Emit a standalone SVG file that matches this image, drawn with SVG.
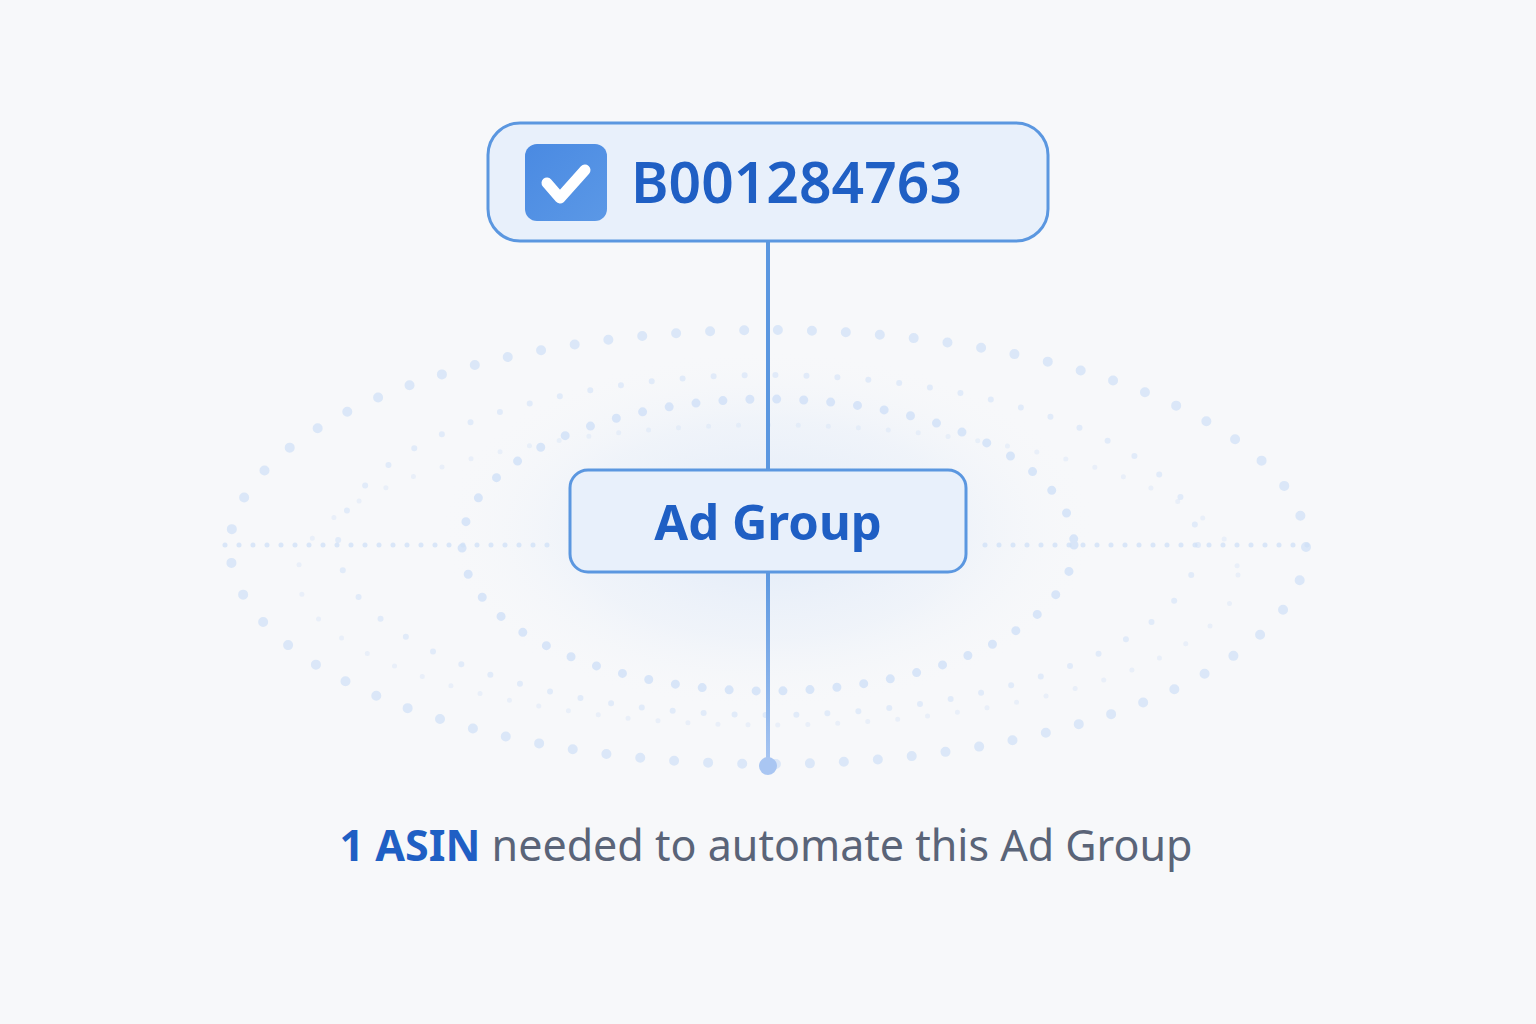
<svg xmlns="http://www.w3.org/2000/svg" width="1536" height="1024" viewBox="0 0 1536 1024">
<style>
.ring{fill:none;stroke:#cfe0f7;stroke-linecap:round}
.node{fill:#e8f0fb;stroke:#5b97e0;stroke-width:3}
.t{font-family:"Noto Sans","Open Sans","Liberation Sans",sans-serif}
</style>
<defs>
<radialGradient id="glow" cx="768" cy="530" r="330" gradientUnits="userSpaceOnUse" gradientTransform="translate(768 530) scale(1 0.55) translate(-768 -530)">
<stop offset="0" stop-color="#dde8f8" stop-opacity="0.9"/>
<stop offset="0.6" stop-color="#e8eff9" stop-opacity="0.5"/>
<stop offset="1" stop-color="#f7f8fa" stop-opacity="0"/>
</radialGradient>
<linearGradient id="fade" x1="0" y1="572" x2="0" y2="766" gradientUnits="userSpaceOnUse">
<stop offset="0" stop-color="#5b97e0"/>
<stop offset="1" stop-color="#a9c6f2"/>
</linearGradient>
<linearGradient id="chk" x1="0" y1="0" x2="1" y2="1">
<stop offset="0" stop-color="#4a8ae2"/>
<stop offset="1" stop-color="#5b98e6"/>
</linearGradient>
</defs>
<rect width="1536" height="1024" fill="#f7f8fa"/>
<ellipse cx="768" cy="540" rx="600" ry="330" fill="url(#glow)"/>
<g id="rings">
<ellipse class="ring" cx="768" cy="547" rx="538" ry="217" stroke-width="10" stroke-dasharray="0 34" opacity="0.7"/>
<ellipse class="ring" cx="768" cy="545" rx="430" ry="170" stroke-width="6" stroke-dasharray="0 31" opacity="0.55"/>
<ellipse class="ring" cx="768" cy="545" rx="306" ry="146" stroke-width="9" stroke-dasharray="0 27" opacity="0.8"/>
<ellipse class="ring" cx="768" cy="575" rx="470" ry="150" stroke-width="5" stroke-dasharray="0 30" opacity="0.35"/>
<line class="ring" x1="225" y1="545" x2="550" y2="545" stroke-width="5" stroke-dasharray="0 14" opacity="0.75"/>
<line class="ring" x1="985" y1="545" x2="1312" y2="545" stroke-width="5" stroke-dasharray="0 14" opacity="0.75"/>
</g>
<g id="connectors">
<line x1="768" y1="241" x2="768" y2="470" stroke="#5b97e0" stroke-width="4"/>
<line x1="768" y1="572" x2="768" y2="762" stroke="url(#fade)" stroke-width="4"/>
<circle cx="768" cy="766" r="9" fill="#a9c6f2"/>
</g>
<g id="asin-node">
<rect class="node" x="488" y="123" width="560" height="118" rx="32"/>
<rect x="525" y="144" width="82" height="77" rx="12" fill="url(#chk)"/>
<path d="M547 183 L560 198 L585 170" fill="none" stroke="#ffffff" stroke-width="11" stroke-linecap="round" stroke-linejoin="round"/>
<text class="t" x="631" y="203" font-size="57" font-weight="600" fill="#1f5fc4">B001284763</text>
</g>
<g id="adgroup-node">
<rect class="node" x="570" y="470" width="396" height="102" rx="18"/>
<text class="t" x="768" y="540" font-size="49" font-weight="700" fill="#1f5fc4" text-anchor="middle">Ad Group</text>
</g>
<g id="caption">
<text class="t" x="766" y="861" font-size="43" text-anchor="middle"><tspan font-weight="700" fill="#1f5fc4">1 ASIN</tspan><tspan fill="#5a6478"> needed to automate this Ad Group</tspan></text>
</g>
</svg>
